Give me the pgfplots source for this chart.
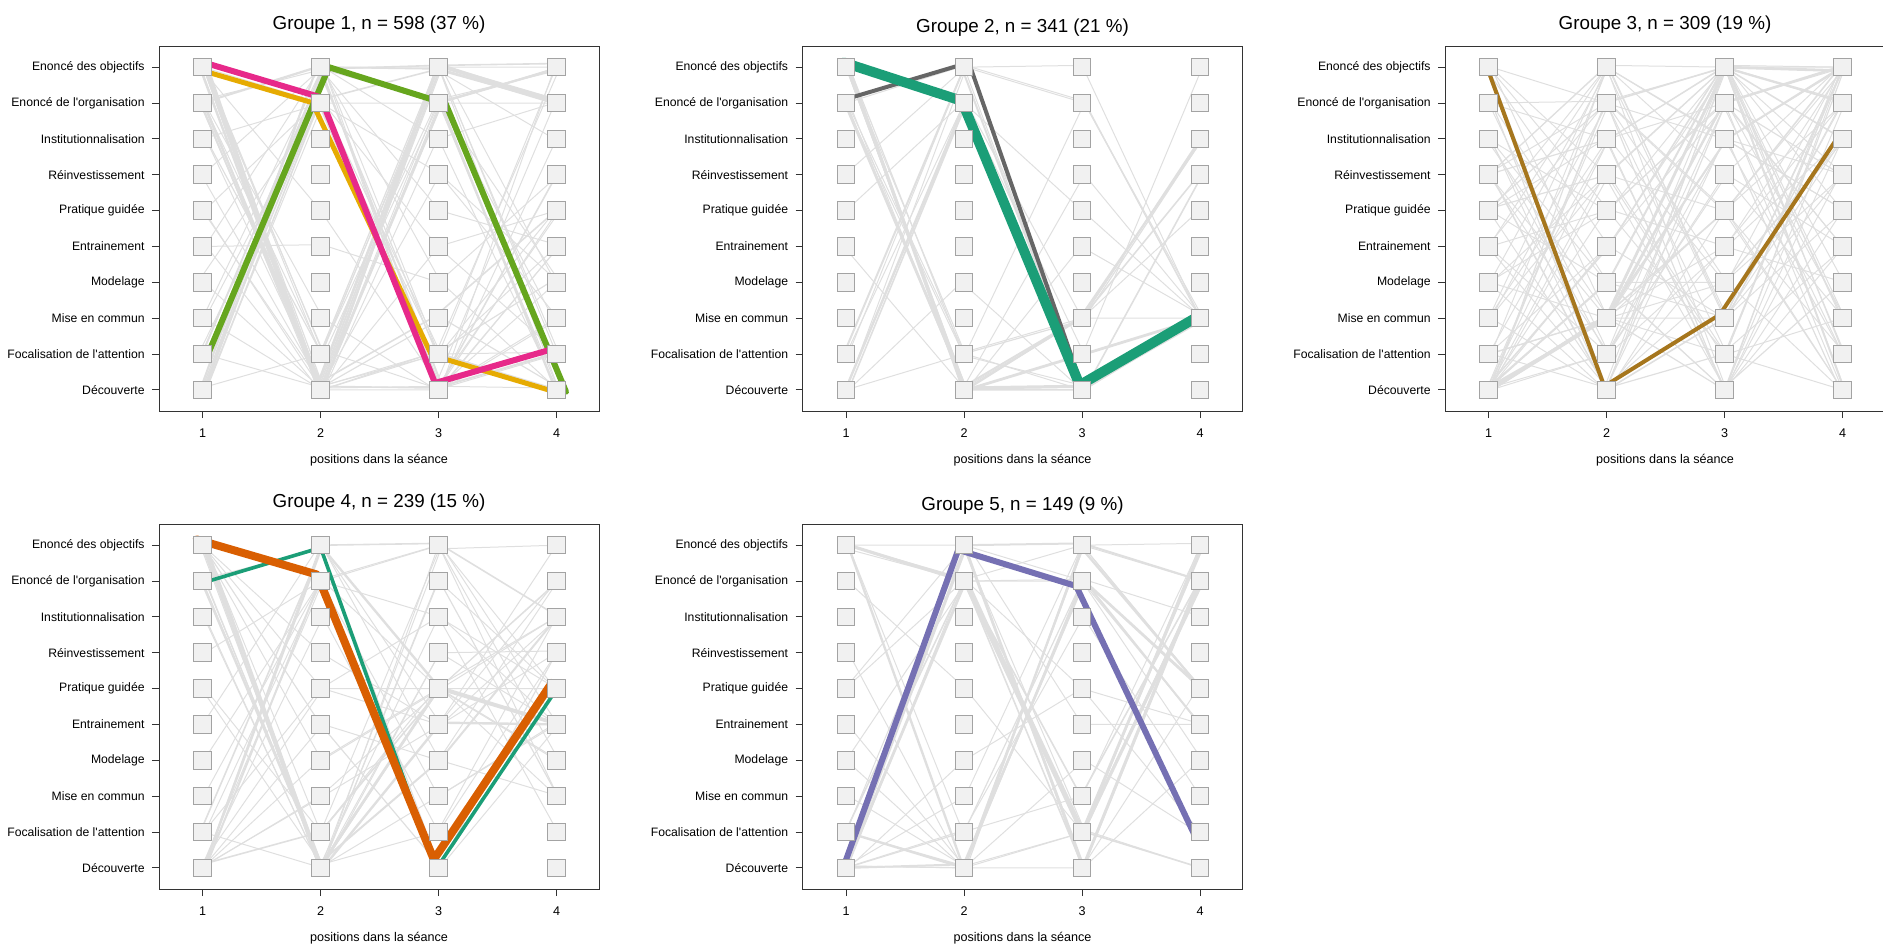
\documentclass[border=0pt]{standalone}
\usepackage{pgfplots}
\pgfplotsset{compat=1.18}
\usepackage{pgfplotstable}
\usepackage{fontspec}
\setmainfont{Liberation Sans}
\definecolor{dkA}{HTML}{1B9E77}
\definecolor{dkB}{HTML}{D95F02}
\definecolor{dkC}{HTML}{7570B3}
\definecolor{dkD}{HTML}{E7298A}
\definecolor{dkE}{HTML}{66A61E}
\definecolor{dkF}{HTML}{E6AB02}
\definecolor{dkG}{HTML}{A6761D}
\definecolor{dkH}{HTML}{666666}
\definecolor{gline}{HTML}{DFDFDF}
\definecolor{sqfill}{HTML}{F1F1F1}
\definecolor{sqdraw}{HTML}{A3A3A3}
\pgfplotstableread{
x y
1 1
1 2
1 3
1 4
1 5
1 6
1 7
1 8
1 9
1 10
2 1
2 2
2 3
2 4
2 5
2 6
2 7
2 8
2 9
2 10
3 1
3 2
3 3
3 4
3 5
3 6
3 7
3 8
3 9
3 10
4 1
4 2
4 3
4 4
4 5
4 6
4 7
4 8
4 9
4 10
}\gridtab
\newcommand{\gl}[2]{\addplot[color=gline, line width=#1, no marks, line join=round, line cap=round] coordinates {#2};}
\newcommand{\squares}{\addplot[only marks, mark=square*, mark size=4.4pt, mark options={fill=sqfill, draw=sqdraw, line width=0.5pt}] table {\gridtab};}
\pgfplotsset{
  traj/.style={
    scale only axis, width=220pt, height=182.5pt, anchor=south west,
    xmin=0.63, xmax=4.36, ymin=0.41, ymax=10.59,
    xtick={1,2,3,4}, xticklabels={1,2,3,4},
    ytick={1,2,3,4,5,6,7,8,9,10},
    yticklabels={D\'ecouverte, Focalisation de l\textquotesingle attention, Mise en commun, Modelage, Entrainement, Pratique guid\'ee, R\'einvestissement, Institutionnalisation, Enonc\'e de l\textquotesingle organisation, Enonc\'e des objectifs},
    xtick pos=bottom, ytick pos=left,
    tick align=outside, major tick length=3.5pt,
    tick style={black!80, line width=0.5pt},
    axis line style={black!80, line width=0.5pt},
    yticklabel style={font=\fontsize{6.1}{7}\selectfont, inner sep=0pt, anchor=east, xshift=-3.5pt},
    xticklabel style={font=\fontsize{6.3}{7}\selectfont, inner sep=0pt, anchor=north, yshift=-5pt},
    xlabel={positions dans la s\'eance},
    xlabel style={font=\fontsize{6.3}{7}\selectfont, at={(axis description cs:0.5,0)}, anchor=base, yshift=-26pt, inner sep=0pt},
    title style={font=\fontsize{9.4}{11}\selectfont, at={(axis description cs:0.5,1)}, anchor=base, yshift=2.5pt, inner sep=0pt},
  },
  hl/.style={no marks, line cap=round, line join=round},
}
\begin{document}
\begin{tikzpicture}
\path[use as bounding box] (0,0) rectangle (941.5pt,-472pt);
% ---------------- Groupe 1
\begin{axis}[traj, at={(79.5pt,-205.5pt)}, title={Groupe 1, n = 598 (37 \%)}]
\squares
\gl{1.4}{(1.03,10.1)(1.97,1.1)(3.0,10.05)(3.98,9.1)}
\gl{1.2}{(1.0,9.05)(2.02,1.0)(2.98,9.95)(4.02,9.0)}
\gl{1.0}{(0.98,9.95)(2.0,0.95)(3.03,9.05)(4.0,9.95)}
\gl{0.8}{(1.02,9.9)(1.96,1.15)(2.97,3.05)(4.03,6.1)}
\gl{0.6}{(1.01,10.02)(2.03,1.02)(3.02,2.1)(3.97,4.05)}
\gl{0.8}{(0.97,9.1)(2.0,1.1)(3.0,1.05)(4.01,7.05)}
\gl{1.2}{(1.02,1.05)(2.03,9.95)(3.01,9.05)(3.98,1.1)}
\gl{1.0}{(0.99,1.1)(1.98,10.1)(3.03,1.1)(4.02,2.05)}
\gl{0.8}{(1.0,2.05)(2.02,9.95)(2.99,10.05)(3.97,10.1)}
\gl{0.8}{(1.03,1.0)(2.0,9.1)(3.0,9.95)(4.0,9.05)}
\gl{0.5}{(0.98,2.1)(2.01,9.05)(3.03,1.0)(4.03,3.0)}
\gl{0.6}{(1.01,0.95)(1.97,10.05)(2.98,2.05)(3.99,0.98)}
\gl{0.5}{(1.0,6.0)(2.02,1.1)(3.0,9.1)(4.0,9.9)}
\gl{0.5}{(0.97,4.05)(2.0,9.0)(3.02,1.05)(4.02,5.0)}
\gl{0.5}{(1.02,5.05)(1.99,1.0)(3.0,10.0)(4.01,2.1)}
\gl{0.5}{(1.0,3.0)(2.01,9.95)(2.97,1.1)(3.98,8.95)}
\gl{0.5}{(0.98,7.05)(2.02,1.05)(3.02,8.9)(4.03,4.0)}
\gl{0.6}{(1.03,8.0)(2.0,2.05)(3.0,10.1)(4.0,9.05)}
\gl{0.8}{(1.0,9.0)(1.98,10.0)(3.01,9.95)(4.02,8.95)}
\gl{0.5}{(1.01,9.1)(2.03,9.95)(3.0,2.0)(3.97,1.05)}
\gl{0.5}{(0.99,1.05)(2.0,2.0)(3.02,10.0)(4.01,9.1)}
\gl{0.5}{(1.02,10.0)(2.01,2.1)(2.98,1.05)(4.03,6.0)}
\gl{0.5}{(1.0,1.1)(1.98,9.0)(3.0,2.0)(3.99,9.95)}
\gl{0.6}{(0.97,9.05)(2.02,1.1)(3.03,3.0)(4.0,1.1)}
\gl{0.5}{(1.03,6.05)(2.0,9.1)(2.99,5.0)(4.02,2.0)}
\gl{0.5}{(1.0,10.05)(1.99,1.0)(3.01,7.0)(4.0,3.05)}
\gl{0.5}{(1.01,2.0)(2.02,1.05)(3.0,9.9)(3.98,8.0)}
\gl{0.5}{(0.98,9.0)(2.0,10.05)(3.02,4.0)(4.01,1.0)}
\gl{0.5}{(1.02,8.05)(2.01,1.1)(2.98,2.05)(4.03,10.0)}
\gl{0.5}{(1.0,1.0)(1.97,9.05)(3.0,7.05)(4.0,4.05)}
\gl{0.5}{(0.99,10.1)(2.03,2.0)(3.01,9.05)(3.97,3.0)}
\gl{0.5}{(1.01,4.0)(2.0,1.05)(3.03,10.0)(4.02,9.0)}
\gl{0.5}{(1.03,3.05)(1.98,9.0)(3.0,1.1)(4.0,1.05)}
\gl{0.5}{(1.0,9.1)(2.02,3.0)(2.98,1.0)(4.01,2.0)}
\gl{0.5}{(0.98,10.0)(2.0,6.0)(3.02,1.05)(3.99,10.05)}
\gl{0.5}{(1.02,5.0)(2.01,5.05)(3.0,4.0)(4.02,7.0)}
\gl{0.5}{(1.0,7.0)(2.0,9.95)(3.01,6.0)(4.0,5.05)}
\gl{0.5}{(1.02,10.0)(2.01,1.0)(3.0,5.0)(4.0,6.0)}
\gl{0.5}{(0.99,9.0)(1.98,1.05)(3.02,10.0)(4.01,10.0)}
\gl{0.5}{(1.0,10.1)(2.02,0.95)(2.99,8.0)(3.98,9.0)}
\gl{0.5}{(1.01,9.05)(2.0,1.0)(3.0,1.0)(4.02,5.0)}
\gl{0.5}{(0.98,1.0)(2.01,10.0)(3.01,10.0)(4.0,9.0)}
\gl{0.5}{(1.02,2.0)(1.99,9.0)(3.02,9.0)(4.01,10.0)}
\gl{0.5}{(1.0,1.05)(2.02,10.05)(2.98,1.0)(4.0,4.0)}
\gl{0.5}{(1.01,10.0)(2.0,1.1)(3.01,2.0)(3.99,6.0)}
\gl{0.5}{(0.99,9.1)(2.01,2.0)(3.0,10.0)(4.02,1.0)}
\gl{0.5}{(1.0,8.0)(2.02,9.0)(3.02,2.0)(4.0,5.0)}
\gl{0.5}{(1.02,5.0)(2.0,10.0)(3.0,9.0)(4.01,1.05)}
\gl{0.5}{(1.0,10.05)(1.98,1.0)(3.01,9.95)(4.0,2.0)}
\gl{0.5}{(1.01,6.0)(2.01,1.0)(2.99,2.0)(4.02,2.05)}
\gl{0.5}{(0.98,9.0)(2.0,1.0)(3.02,10.0)(3.99,4.0)}
\gl{0.5}{(1.02,1.0)(2.02,9.0)(3.0,1.05)(4.01,6.0)}
\gl{0.5}{(1.0,10.0)(2.0,9.0)(3.0,1.0)(4.0,3.0)}
\gl{0.5}{(1.01,3.0)(2.01,1.0)(3.01,9.0)(4.02,9.95)}
\gl{0.5}{(0.99,9.95)(1.99,1.05)(3.02,1.1)(4.0,8.0)}
\gl{0.5}{(1.0,2.0)(2.02,10.0)(3.0,8.0)(4.01,1.0)}
\gl{0.5}{(1.02,10.0)(2.0,2.0)(2.98,9.0)(4.0,9.0)}
\addplot[hl, color=dkF, line width=2.5pt] coordinates {(0.95,9.95)(1.93,9.01)(2.94,1.97)(3.93,1.0)};
\addplot[hl, color=dkE, line width=3pt] coordinates {(1.04,1.95)(2.07,10.0)(3.06,8.98)(4.08,0.95)};
\addplot[hl, color=dkD, line width=3pt] coordinates {(0.98,10.16)(2.0,9.16)(2.97,1.19)(3.99,2.16)};
\end{axis}
% ---------------- Groupe 2
\begin{axis}[traj, at={(401.25pt,-205.5pt)}, title={Groupe 2, n = 341 (21 \%)}, title style={yshift=-1.8pt}]
\squares
\gl{1.6}{(1.02,10.0)(1.99,1.05)(3.0,1.1)(4.0,3.05)}
\gl{1.4}{(0.99,9.0)(2.02,1.0)(3.02,2.0)(4.01,3.0)}
\gl{1.0}{(1.03,9.9)(2.0,1.1)(2.98,3.0)(4.02,8.0)}
\gl{1.2}{(1.0,1.05)(2.01,9.05)(3.0,1.0)(3.99,3.05)}
\gl{1.0}{(0.98,2.0)(1.99,9.9)(3.01,1.05)(4.0,2.9)}
\gl{0.8}{(1.02,1.0)(2.02,9.0)(3.03,1.05)(4.02,7.0)}
\gl{0.5}{(1.0,6.0)(2.0,9.05)(3.0,1.0)(4.0,3.0)}
\gl{0.5}{(0.99,7.0)(2.01,10.0)(3.02,9.0)(4.01,3.1)}
\gl{0.5}{(1.01,9.0)(2.0,2.05)(3.0,3.0)(4.02,8.05)}
\gl{0.8}{(1.0,10.0)(2.02,1.0)(3.01,3.05)(3.99,7.0)}
\gl{0.5}{(0.98,9.05)(2.0,1.95)(3.03,1.1)(4.0,3.0)}
\gl{0.5}{(1.02,1.0)(1.98,4.0)(3.0,1.0)(4.01,3.05)}
\gl{0.5}{(1.0,9.0)(2.01,10.05)(3.02,9.05)(4.0,3.0)}
\gl{0.5}{(1.0,2.0)(2.0,9.0)(3.0,6.0)(4.02,3.0)}
\gl{0.5}{(1.01,9.9)(2.02,1.0)(2.99,5.0)(4.0,3.1)}
\gl{0.5}{(1.0,1.0)(2.01,2.0)(3.02,9.0)(4.01,3.0)}
\gl{0.5}{(0.99,10.05)(2.0,9.05)(3.01,2.05)(4.02,10.0)}
\gl{0.5}{(1.02,9.05)(2.0,1.05)(3.0,3.0)(3.99,6.0)}
\gl{0.5}{(1.0,1.0)(2.02,10.0)(3.0,10.05)(4.0,3.0)}
\gl{0.5}{(1.01,9.9)(2.0,1.1)(3.02,7.0)(4.01,3.05)}
\gl{0.5}{(0.98,5.0)(2.0,1.05)(3.0,1.0)(4.0,3.0)}
\gl{0.6}{(1.02,10.05)(1.99,2.0)(3.01,2.95)(4.02,8.0)}
\gl{0.8}{(1.01,10.0)(2.0,1.0)(3.0,3.0)(4.0,8.0)}
\gl{0.8}{(1.0,9.0)(2.01,1.0)(3.01,1.0)(4.01,3.0)}
\gl{0.5}{(0.99,1.0)(2.02,9.0)(3.0,3.0)(4.0,3.0)}
\gl{0.5}{(1.02,2.0)(2.0,10.0)(3.02,1.0)(4.02,3.0)}
\gl{0.5}{(1.0,10.0)(2.01,2.0)(3.0,1.0)(4.0,3.0)}
\addplot[hl, color=dkH, line width=2pt] coordinates {(1.02,9.13)(2.04,10.13)(3.0,1.1)(4.0,3.05)};
\addplot[hl, color=dkA, line width=5pt] coordinates {(0.98,10.13)(1.98,9.06)(2.98,1.13)(4.0,3.08)};
\end{axis}
% ---------------- Groupe 3
\begin{axis}[traj, at={(722.5pt,-205.5pt)}, title={Groupe 3, n = 309 (19 \%)}]
\squares
\gl{1.4}{(1.02,1.0)(2.0,3.05)(3.01,10.0)(4.0,9.9)}
\gl{1.2}{(0.99,1.05)(2.02,3.0)(2.99,9.0)(4.02,10.05)}
\gl{1.0}{(1.0,0.95)(1.98,2.95)(3.02,8.0)(3.99,10.0)}
\gl{1.0}{(1.01,1.1)(2.01,4.0)(3.0,10.05)(4.01,1.05)}
\gl{0.8}{(1.03,1.0)(2.0,3.1)(3.01,6.0)(4.0,10.1)}
\gl{0.8}{(0.98,1.05)(2.02,5.0)(2.98,10.0)(4.03,9.0)}
\gl{0.8}{(1.0,1.0)(1.99,9.0)(3.0,10.0)(4.0,8.0)}
\gl{0.6}{(1.02,0.95)(2.0,10.0)(3.02,8.0)(3.98,1.0)}
\gl{0.6}{(1.0,2.0)(2.01,3.0)(3.0,1.0)(4.02,10.0)}
\gl{0.8}{(1.01,7.05)(2.0,1.0)(3.0,3.0)(4.0,9.9)}
\gl{0.6}{(0.99,7.0)(2.02,8.0)(3.02,10.05)(4.01,2.0)}
\gl{0.6}{(1.0,10.0)(2.0,1.05)(3.0,2.0)(4.0,10.0)}
\gl{0.6}{(1.02,9.05)(1.99,1.0)(3.01,9.0)(3.99,7.0)}
\gl{0.6}{(1.0,6.05)(2.01,7.0)(3.0,10.0)(4.02,9.05)}
\gl{0.6}{(0.98,6.0)(2.0,9.0)(2.99,1.05)(4.0,4.0)}
\gl{0.5}{(1.01,4.0)(2.02,10.0)(3.01,3.0)(4.01,6.0)}
\gl{0.5}{(1.0,8.0)(2.0,6.0)(3.0,9.0)(4.0,1.0)}
\gl{0.5}{(1.02,3.0)(1.98,1.05)(3.02,10.0)(4.02,3.0)}
\gl{0.5}{(1.0,5.0)(2.01,2.0)(3.0,7.0)(3.99,10.05)}
\gl{0.5}{(0.99,1.0)(2.0,6.05)(3.01,5.0)(4.01,10.0)}
\gl{0.5}{(1.01,2.05)(2.02,8.0)(3.0,4.0)(4.0,8.0)}
\gl{0.5}{(1.0,10.05)(2.0,7.0)(2.98,2.0)(4.02,5.0)}
\gl{0.5}{(1.02,9.0)(2.01,4.0)(3.0,1.0)(4.0,6.0)}
\gl{0.5}{(1.0,7.0)(2.0,10.05)(3.02,10.0)(4.01,4.0)}
\gl{0.5}{(0.98,4.05)(1.99,1.0)(3.0,8.0)(4.0,2.0)}
\gl{0.5}{(1.01,1.0)(2.02,7.0)(3.01,2.0)(3.98,10.0)}
\gl{0.5}{(1.0,6.0)(2.0,1.1)(3.0,4.0)(4.02,8.0)}
\gl{0.5}{(1.02,3.0)(2.01,9.0)(2.99,6.0)(4.0,1.0)}
\gl{0.5}{(1.0,1.05)(2.0,2.0)(3.02,7.0)(4.01,5.0)}
\gl{0.5}{(0.99,9.9)(2.02,5.0)(3.0,3.0)(4.0,7.0)}
\gl{0.5}{(1.01,8.05)(2.0,1.0)(3.01,10.0)(3.99,3.0)}
\gl{0.5}{(1.0,5.05)(1.99,9.0)(3.0,8.0)(4.02,6.0)}
\gl{0.5}{(1.02,2.0)(2.01,10.0)(3.02,3.05)(4.0,9.0)}
\gl{0.5}{(1.0,7.0)(2.0,3.0)(3.0,10.0)(4.01,7.0)}
\gl{0.5}{(0.98,1.0)(2.02,8.0)(3.01,10.05)(4.0,10.0)}
\gl{0.5}{(1.01,6.0)(2.0,4.0)(3.0,1.0)(4.02,9.0)}
\gl{0.5}{(1.0,4.0)(2.01,6.0)(2.98,9.0)(4.0,2.0)}
\gl{0.5}{(1.02,10.0)(2.0,9.0)(3.02,4.0)(3.99,1.0)}
\gl{0.5}{(1.0,1.0)(2.0,3.0)(3.0,3.0)(4.01,10.0)}
\gl{0.5}{(0.99,7.05)(2.02,2.0)(3.01,9.0)(4.0,5.0)}
\gl{0.5}{(1.01,3.0)(2.0,7.0)(3.0,6.0)(4.02,10.0)}
\gl{0.5}{(1.0,9.0)(1.99,9.05)(3.02,10.0)(4.0,9.0)}
\gl{0.5}{(1.02,2.0)(2.01,1.05)(3.0,5.0)(4.01,4.0)}
\gl{0.5}{(1.0,5.0)(2.0,10.0)(3.01,1.05)(3.98,7.0)}
\gl{0.5}{(0.98,8.0)(2.02,3.0)(3.0,2.0)(4.0,1.0)}
\gl{0.5}{(1.01,1.05)(2.0,5.0)(3.02,9.0)(4.02,3.0)}
\gl{0.5}{(1.0,1.0)(2.0,3.0)(3.0,10.0)(4.0,3.0)}
\gl{0.5}{(1.02,1.05)(2.01,3.0)(3.02,8.0)(4.01,10.0)}
\gl{0.5}{(0.99,1.0)(2.02,3.1)(3.0,5.0)(4.0,9.0)}
\gl{0.5}{(1.01,8.0)(2.0,2.0)(3.01,10.0)(4.02,10.0)}
\gl{0.5}{(1.0,7.0)(1.99,10.0)(3.0,3.0)(4.0,8.0)}
\gl{0.5}{(1.02,10.0)(2.01,3.0)(3.02,4.0)(3.99,10.0)}
\gl{0.5}{(1.0,9.0)(2.0,8.0)(3.0,1.0)(4.01,5.0)}
\gl{0.5}{(0.98,1.0)(2.02,9.0)(3.01,6.0)(4.0,1.0)}
\gl{0.5}{(1.01,4.0)(2.0,3.0)(3.0,9.0)(4.02,10.0)}
\gl{0.5}{(1.0,2.0)(2.01,5.0)(3.02,10.0)(4.0,6.0)}
\gl{0.5}{(1.02,6.0)(2.0,10.0)(3.0,7.0)(4.01,3.0)}
\gl{0.5}{(1.0,1.05)(1.98,7.0)(3.01,1.0)(4.0,8.0)}
\gl{0.5}{(0.99,5.0)(2.02,1.0)(3.0,6.0)(4.02,2.0)}
\gl{0.5}{(1.01,8.0)(2.0,4.0)(3.02,3.0)(3.99,9.0)}
\gl{0.5}{(1.0,3.0)(2.01,8.0)(3.0,9.0)(4.0,5.0)}
\gl{0.5}{(1.02,1.0)(2.0,2.0)(3.01,8.0)(4.01,7.0)}
\gl{0.5}{(1.0,10.0)(2.02,6.0)(3.0,10.0)(4.02,1.0)}
\gl{0.5}{(0.98,7.0)(2.0,9.0)(3.02,2.0)(4.0,3.0)}
\gl{0.5}{(1.01,2.0)(2.01,3.0)(3.0,6.0)(4.01,9.0)}
\gl{0.5}{(1.0,6.0)(1.99,8.0)(3.01,1.0)(4.0,10.0)}
\gl{0.5}{(1.02,4.0)(2.0,7.0)(3.0,10.0)(4.02,2.0)}
\gl{0.5}{(1.0,9.0)(2.02,2.0)(3.02,5.0)(3.99,8.0)}
\gl{0.5}{(0.99,1.0)(2.0,4.0)(3.0,4.0)(4.01,7.0)}
\gl{0.5}{(1.01,5.0)(2.01,6.0)(3.01,2.0)(4.0,10.0)}
\gl{0.5}{(1.0,3.0)(2.0,10.0)(3.0,8.0)(4.02,6.0)}
\addplot[hl, color=dkG, line width=2pt] coordinates {(0.98,10.05)(1.98,1.1)(2.96,3.1)(3.96,8.05)};
\end{axis}
% ---------------- Groupe 4
\begin{axis}[traj, at={(79.5pt,-444.5pt)}, title={Groupe 4, n = 239 (15 \%)}]
\squares
\gl{1.4}{(1.02,10.05)(2.0,1.05)(3.0,6.0)(4.01,5.0)}
\gl{1.2}{(0.99,9.0)(2.02,1.0)(3.02,5.05)(4.0,5.0)}
\gl{1.0}{(1.0,10.0)(1.98,1.1)(3.01,4.0)(4.02,8.05)}
\gl{1.2}{(1.01,1.0)(2.01,9.95)(3.0,6.05)(3.99,5.05)}
\gl{1.0}{(1.03,1.05)(2.0,9.05)(2.98,1.0)(4.0,6.0)}
\gl{0.8}{(0.98,2.0)(2.02,10.0)(3.0,10.05)(4.02,8.0)}
\gl{0.8}{(1.0,1.1)(2.0,2.0)(3.02,6.0)(4.0,5.05)}
\gl{0.6}{(1.02,9.05)(2.01,1.0)(3.0,9.05)(4.01,3.0)}
\gl{0.6}{(1.0,10.0)(2.0,5.0)(3.01,1.05)(4.0,7.0)}
\gl{0.5}{(0.99,6.0)(2.02,1.05)(3.0,10.0)(4.02,4.0)}
\gl{0.5}{(1.01,3.0)(2.0,9.0)(3.02,8.0)(4.0,5.0)}
\gl{0.5}{(1.0,1.0)(1.99,4.0)(3.0,6.0)(4.01,9.0)}
\gl{0.5}{(1.02,9.9)(2.01,1.1)(2.99,2.0)(4.0,8.0)}
\gl{0.5}{(1.0,5.0)(2.0,10.05)(3.01,4.0)(4.02,3.0)}
\gl{0.5}{(0.98,1.05)(2.02,6.0)(3.0,5.0)(4.0,10.0)}
\gl{0.5}{(1.01,10.05)(2.0,2.0)(3.02,10.0)(4.01,5.0)}
\gl{0.5}{(1.0,2.0)(2.01,1.0)(3.0,9.0)(3.99,6.0)}
\gl{0.5}{(1.02,7.0)(2.0,9.0)(3.0,3.0)(4.0,5.05)}
\gl{0.5}{(1.0,9.0)(2.02,1.0)(3.01,7.0)(4.02,7.05)}
\gl{0.5}{(0.99,1.0)(2.0,3.0)(3.02,6.0)(4.0,8.0)}
\gl{0.5}{(1.01,4.0)(2.01,9.05)(3.0,10.0)(4.01,3.0)}
\gl{0.5}{(1.0,10.0)(2.0,7.0)(3.0,5.0)(4.0,9.0)}
\gl{0.5}{(1.02,8.0)(1.99,1.05)(3.01,6.0)(4.02,4.0)}
\gl{0.5}{(1.0,1.05)(2.02,8.0)(3.0,2.0)(4.0,7.0)}
\gl{0.5}{(0.98,10.0)(2.0,1.0)(3.02,9.9)(4.01,10.0)}
\gl{0.5}{(1.01,2.0)(2.0,6.0)(3.0,8.0)(4.0,6.0)}
\gl{0.5}{(1.0,9.05)(2.01,9.9)(3.01,1.0)(4.02,5.0)}
\gl{0.5}{(1.02,6.0)(2.0,2.0)(2.99,6.05)(4.0,8.0)}
\gl{0.5}{(1.0,1.0)(2.02,5.0)(3.0,4.0)(4.01,9.0)}
\gl{0.5}{(0.99,10.0)(2.01,4.0)(3.02,6.0)(4.0,3.0)}
\gl{0.5}{(1.0,10.0)(2.0,1.0)(3.0,6.0)(4.0,6.0)}
\gl{0.5}{(1.02,9.0)(2.01,1.05)(3.01,7.0)(4.01,5.0)}
\gl{0.5}{(0.99,1.0)(2.02,9.0)(3.0,6.0)(4.0,4.0)}
\gl{0.5}{(1.01,1.05)(2.0,10.0)(3.02,5.0)(4.02,8.0)}
\gl{0.5}{(1.0,10.05)(1.99,1.0)(3.0,3.0)(4.0,5.0)}
\gl{0.5}{(1.02,2.0)(2.01,9.0)(3.01,10.0)(3.99,6.0)}
\gl{0.5}{(1.0,9.9)(2.0,1.1)(3.0,8.0)(4.01,2.0)}
\gl{0.5}{(0.98,1.0)(2.02,3.0)(3.02,5.0)(4.0,7.0)}
\gl{0.5}{(1.01,8.0)(2.0,1.0)(3.0,6.0)(4.02,9.0)}
\gl{0.5}{(1.0,10.0)(2.01,6.0)(3.01,6.0)(4.0,5.0)}
\addplot[hl, color=dkA, line width=1.8pt] coordinates {(0.98,8.93)(2.0,9.93)(2.98,0.97)(3.99,5.93)};
\addplot[hl, color=dkB, line width=4pt] coordinates {(0.95,10.16)(1.97,9.18)(2.96,1.23)(3.96,6.16)};
\end{axis}
% ---------------- Groupe 5
\begin{axis}[traj, at={(401.25pt,-444.5pt)}, title={Groupe 5, n = 149 (9 \%)}, title style={yshift=-1.8pt}]
\squares
\gl{1.6}{(1.02,10.0)(2.0,9.0)(3.0,1.95)(4.01,8.9)}
\gl{1.4}{(0.99,1.0)(2.01,9.9)(3.01,1.05)(4.0,9.1)}
\gl{1.4}{(1.0,1.05)(2.02,9.05)(3.0,2.0)(4.02,10.0)}
\gl{1.2}{(1.01,10.05)(1.99,1.05)(3.02,9.0)(4.0,6.05)}
\gl{1.2}{(1.0,2.0)(2.0,1.0)(3.0,9.9)(4.01,6.0)}
\gl{1.0}{(1.02,1.0)(2.01,1.1)(3.01,9.05)(4.0,5.0)}
\gl{1.0}{(0.98,1.1)(2.02,10.0)(3.0,10.05)(4.02,9.0)}
\gl{0.8}{(1.0,2.05)(2.0,9.0)(2.99,3.0)(4.0,9.05)}
\gl{0.8}{(1.01,10.0)(2.01,9.05)(3.02,2.0)(4.01,1.0)}
\gl{0.6}{(1.0,1.0)(2.0,2.0)(3.0,9.0)(3.99,5.05)}
\gl{0.5}{(1.02,7.0)(1.99,1.0)(3.01,1.0)(4.0,4.0)}
\gl{0.5}{(0.99,6.0)(2.02,10.05)(3.0,5.0)(4.02,5.0)}
\gl{0.5}{(1.0,5.05)(2.0,1.05)(3.02,10.0)(4.0,10.05)}
\gl{0.5}{(1.01,9.0)(2.01,6.0)(3.0,2.0)(4.01,9.0)}
\gl{0.5}{(1.02,1.0)(2.0,4.0)(3.0,6.0)(4.0,2.0)}
\gl{0.5}{(1.0,4.0)(2.02,9.0)(3.01,9.05)(4.02,8.0)}
\gl{0.5}{(0.98,1.05)(2.0,1.0)(3.02,4.0)(4.0,1.95)}
\gl{0.5}{(1.01,10.05)(1.99,2.0)(3.0,3.0)(4.01,10.0)}
\gl{0.5}{(1.0,2.0)(2.01,10.0)(3.0,1.0)(3.99,6.05)}
\gl{0.5}{(1.02,3.0)(2.0,1.05)(3.02,2.0)(4.0,9.0)}
\gl{0.5}{(1.0,9.9)(2.02,9.0)(3.0,6.0)(4.02,5.0)}
\gl{0.5}{(0.99,1.0)(2.0,2.05)(3.01,8.0)(4.0,3.0)}
\gl{0.5}{(1.01,6.05)(2.01,9.05)(3.0,10.0)(4.01,6.0)}
\gl{0.5}{(1.0,1.05)(2.0,9.9)(3.02,2.05)(4.0,1.0)}
\gl{0.8}{(1.01,10.0)(2.0,9.0)(3.01,1.0)(4.0,9.0)}
\gl{0.8}{(1.0,1.0)(2.01,9.0)(3.0,2.0)(4.02,9.9)}
\gl{0.6}{(0.99,2.0)(2.0,1.05)(3.02,9.0)(4.0,5.0)}
\gl{0.6}{(1.02,1.05)(2.02,1.0)(3.0,10.0)(4.01,6.0)}
\gl{0.5}{(1.0,10.0)(2.0,10.0)(3.01,9.0)(4.0,6.0)}
\gl{0.5}{(1.01,1.0)(1.99,9.0)(3.0,9.0)(4.02,4.0)}
\gl{0.5}{(1.0,4.0)(2.0,1.0)(3.02,2.0)(4.0,10.0)}
\gl{0.5}{(0.98,1.0)(2.01,3.0)(3.0,10.0)(4.01,9.0)}
\addplot[hl, color=dkC, line width=3pt] coordinates {(0.96,0.87)(1.95,9.87)(2.95,8.86)(3.96,1.87)};
\end{axis}
\end{tikzpicture}
\end{document}
